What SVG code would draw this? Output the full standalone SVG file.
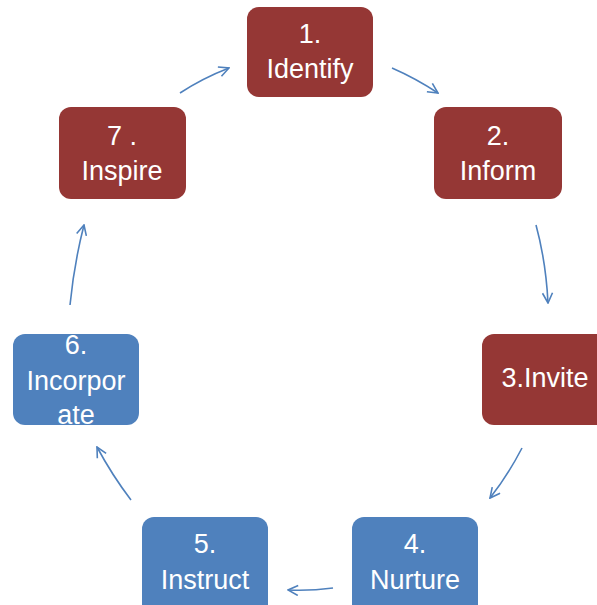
<svg xmlns="http://www.w3.org/2000/svg" width="597" height="605" viewBox="0 0 597 605">
<defs>
<style>
.red{fill:#953735}
.blue{fill:#4F81BD}
.t{font-family:"Liberation Sans","Open Sans",sans-serif;font-size:27px;fill:#fff;text-anchor:middle}
.c{fill:none;stroke:#4F81BD;stroke-width:1.6}
</style>
<marker id="ah" viewBox="0 0 12 12" refX="11" refY="6" markerWidth="12" markerHeight="12" markerUnits="userSpaceOnUse" orient="auto">
<path d="M1,1 L11,6 L1,11" fill="none" stroke="#4F81BD" stroke-width="1.6"/>
</marker>
</defs>
<rect width="597" height="605" fill="#fff"/>
<g id="connectors">
<path class="c" d="M392,68 Q415,78 438,93" marker-end="url(#ah)"/>
<path class="c" d="M536,225 Q546,262 548,303" marker-end="url(#ah)"/>
<path class="c" d="M522,448 Q508,475 490,498" marker-end="url(#ah)"/>
<path class="c" d="M333,588 Q310,591 288,590" marker-end="url(#ah)"/>
<path class="c" d="M131,500 Q112,475 97,447" marker-end="url(#ah)"/>
<path class="c" d="M70,305 Q74,264 84,225" marker-end="url(#ah)"/>
<path class="c" d="M180,93 Q203,78 229,68" marker-end="url(#ah)"/>
</g>
<g id="n1"><rect class="red" x="247" y="7" width="126" height="90" rx="12"/><text class="t" x="310" y="43">1.</text><text class="t" x="310" y="78">Identify</text></g>
<g id="n2"><rect class="red" x="434" y="107" width="128" height="92" rx="12"/><text class="t" x="498" y="145">2.</text><text class="t" x="498" y="180">Inform</text></g>
<g id="n3"><rect class="red" x="482" y="334" width="128" height="91" rx="12"/><text class="t" x="545" y="387">3.Invite</text></g>
<g id="n4"><rect class="blue" x="352" y="517" width="126" height="100" rx="12"/><text class="t" x="415" y="553">4.</text><text class="t" x="415" y="589">Nurture</text></g>
<g id="n5"><rect class="blue" x="142" y="517" width="126" height="100" rx="12"/><text class="t" x="205" y="553">5.</text><text class="t" x="205" y="589">Instruct</text></g>
<g id="n6"><rect class="blue" x="13" y="334" width="126" height="91" rx="12"/><text class="t" x="76" y="354">6.</text><text class="t" x="76" y="390">Incorpor</text><text class="t" x="76" y="424">ate</text></g>
<g id="n7"><rect class="red" x="59" y="107" width="127" height="92" rx="12"/><text class="t" x="122" y="145">7 .</text><text class="t" x="122" y="180">Inspire</text></g>
</svg>
